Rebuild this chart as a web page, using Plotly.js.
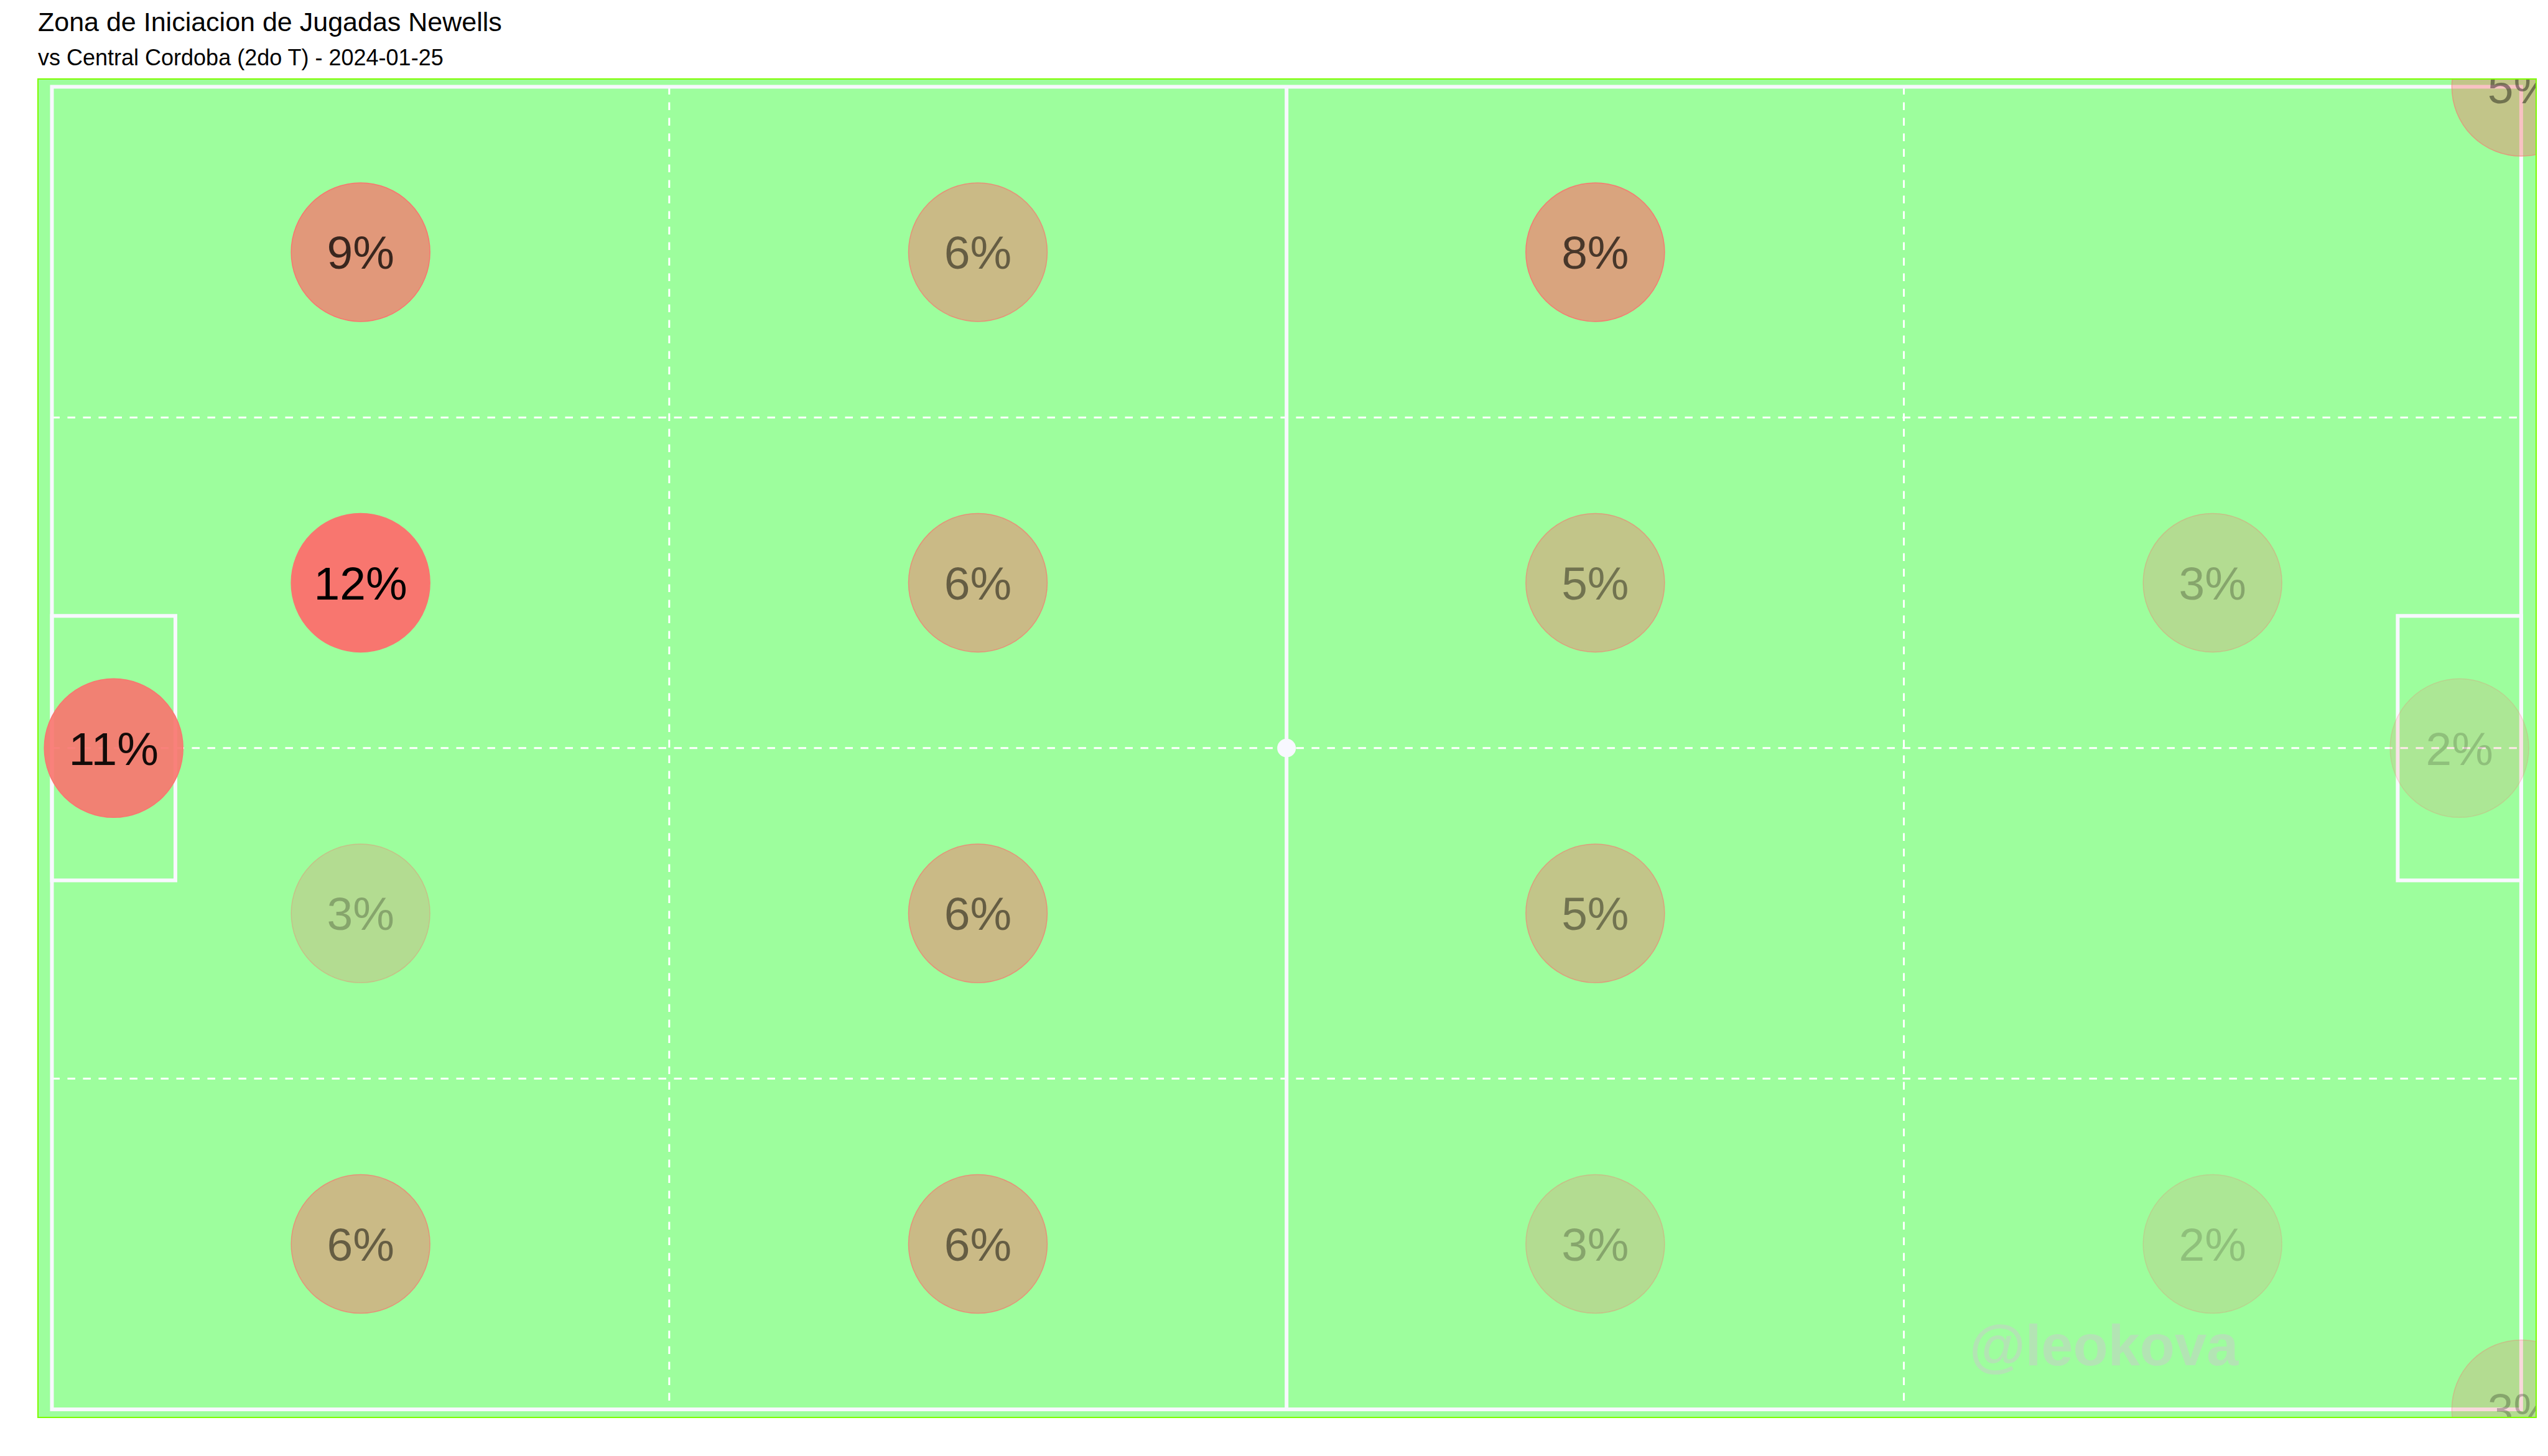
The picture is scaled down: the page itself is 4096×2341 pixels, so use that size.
<!DOCTYPE html>
<html>
<head>
<meta charset="utf-8">
<script src="https://cdn.plot.ly/plotly-3.0.1.min.js"></script>
<style>
  html, body { margin: 0; padding: 0; background: #ffffff; }
  #chart { width: 4096px; height: 2341px; }
</style>
</head>
<body>
<div id="chart"></div>
<script>
// ---------------- DATA ----------------
const titleText = "Zona de Iniciacion de Jugadas Newells";
const subtitleText = "vs Central Cordoba (2do T) - 2024-01-25";
const watermarkText = "@leokova";

// zone centres (pitch coordinates, 120 x 80) and share of play starts (%)
const zoneX   = [15, 45, 75,   15, 45, 75, 105,   15, 45, 75,   15, 45, 75, 105,   3, 117, 120, 120];
const zoneY   = [10, 10, 10,   30, 30, 30, 30,    50, 50, 50,   70, 70, 70, 70,    40, 40, 0, 80];
const zonePct = [9, 6, 8,      12, 6, 5, 3,       3, 6, 5,      6, 6, 3, 2,        11, 2, 5, 3];

// ---------------- PITCH GEOMETRY ----------------
const pitchL = 120, pitchW = 80;
const gridX = [30, 60, 90];
const gridY = [20, 40, 60];
const boxDepth = 6, boxY0 = 32, boxY1 = 48;

// ---------------- STYLE ----------------
const W = 4096, H = 2341;
const margin = {l: 62, r: 20, t: 128, b: 63};
const plotW = W - margin.l - margin.r;
const plotH = H - margin.t - margin.b;
// pitch line positions in output pixels (reference * 0.78)
const S = 0.78;
const px0 = 107 * S, px1 = 5196 * S, py0 = 179 * S, py1 = 2905 * S;
const ux = (px1 - px0) / pitchL, uy = (py1 - py0) / pitchW;
const xRange = [(margin.l - px0) / ux, (W - margin.r - px0) / ux];
const yRange = [(H - margin.b - py0) / uy, (margin.t - py0) / uy];
const labelShiftPx = 8;   // nudge labels down so glyphs sit centred in the discs

const fieldColor = '#9dfe9d';
const lineColor = '#f8f8ff';
const base = [248, 118, 111];
const maxPct = Math.max(...zonePct);
const alphas = zonePct.map(v => v / maxPct);
const fillCols = alphas.map(a => `rgba(${base[0]},${base[1]},${base[2]},${a.toFixed(3)})`);
const edgeCols = alphas.map(a => `rgba(${base[0]},${base[1]},${base[2]},${Math.min(1, a * 1.4).toFixed(3)})`);
const textCols = alphas.map(a => `rgba(0,0,0,${a.toFixed(3)})`);
const labels = zonePct.map(v => v + '%');

const font = 'Arial, "Liberation Sans", sans-serif';

// ---------------- SHAPES ----------------
const shapes = [];
gridX.forEach(x => shapes.push({type: 'line', xref: 'x', yref: 'y', x0: x, x1: x, y0: 0, y1: pitchW, layer: 'below',
  line: {color: '#ffffff', width: 3, dash: '12.5px,12.5px'}}));
gridY.forEach(y => shapes.push({type: 'line', xref: 'x', yref: 'y', x0: 0, x1: pitchL, y0: y, y1: y, layer: 'below',
  line: {color: '#ffffff', width: 3, dash: '12.5px,12.5px'}}));
shapes.push({type: 'rect', xref: 'x', yref: 'y', x0: 0, x1: pitchL, y0: 0, y1: pitchW, layer: 'below',
  line: {color: lineColor, width: 6}, fillcolor: 'rgba(0,0,0,0)'});
shapes.push({type: 'line', xref: 'x', yref: 'y', x0: pitchL / 2, x1: pitchL / 2, y0: 0, y1: pitchW, layer: 'below',
  line: {color: lineColor, width: 6}});
shapes.push({type: 'rect', xref: 'x', yref: 'y', x0: 0, x1: boxDepth, y0: boxY0, y1: boxY1, layer: 'below',
  line: {color: lineColor, width: 6}, fillcolor: 'rgba(0,0,0,0)'});
shapes.push({type: 'rect', xref: 'x', yref: 'y', x0: pitchL - boxDepth, x1: pitchL, y0: boxY0, y1: boxY1, layer: 'below',
  line: {color: lineColor, width: 6}, fillcolor: 'rgba(0,0,0,0)'});

// ---------------- TRACES ----------------
const traces = [
  {
    type: 'scatter', mode: 'markers', x: [pitchL / 2], y: [pitchW / 2],
    marker: {size: 30, color: lineColor, line: {width: 0}},
    hoverinfo: 'skip', showlegend: false
  },
  {
    type: 'scatter', mode: 'markers', x: zoneX, y: zoneY,
    marker: {size: 223, color: fillCols, line: {width: 1.5, color: edgeCols}},
    hoverinfo: 'skip', showlegend: false, cliponaxis: true
  },
  {
    type: 'scatter', mode: 'text', x: zoneX, y: zoneY.map(v => v + labelShiftPx / uy), text: labels,
    textposition: 'middle center',
    textfont: {family: font, size: 75, color: textCols},
    hoverinfo: 'skip', showlegend: false, cliponaxis: true
  }
];

// ---------------- LAYOUT ----------------
function paperY(pxOut) { return (H - margin.b - pxOut) / plotH; }
function paperX(pxOut) { return (pxOut - margin.l) / plotW; }

const layout = {
  width: W, height: H,
  margin: margin,
  paper_bgcolor: '#ffffff',
  plot_bgcolor: fieldColor,
  showlegend: false,
  font: {family: font, color: '#000000'},
  xaxis: {range: xRange, showgrid: false, zeroline: false, showticklabels: false, ticks: '',
    showline: true, mirror: true, linecolor: '#7cfc00', linewidth: 2, fixedrange: true},
  yaxis: {range: yRange, showgrid: false, zeroline: false, showticklabels: false, ticks: '',
    showline: true, mirror: true, linecolor: '#7cfc00', linewidth: 2, fixedrange: true},
  shapes: shapes,
  annotations: [
    {xref: 'paper', yref: 'paper', x: paperX(59), y: paperY(35), xanchor: 'left', yanchor: 'middle',
      text: titleText, showarrow: false, font: {family: font, size: 43, color: '#000000'}},
    {xref: 'paper', yref: 'paper', x: paperX(59), y: paperY(92), xanchor: 'left', yanchor: 'middle',
      text: subtitleText, showarrow: false, font: {family: font, size: 36, color: '#000000'}},
    {xref: 'x', yref: 'y', x: (4336 * S - px0) / ux, y: (2773 * S - py0) / uy, xanchor: 'center', yanchor: 'middle',
      text: '<b>' + watermarkText + '</b>', showarrow: false,
      font: {family: font, size: 92, color: '#b3e4b4'}}
  ]
};

Plotly.newPlot('chart', traces, layout, {displayModeBar: false, staticPlot: true});
</script>
</body>
</html>
